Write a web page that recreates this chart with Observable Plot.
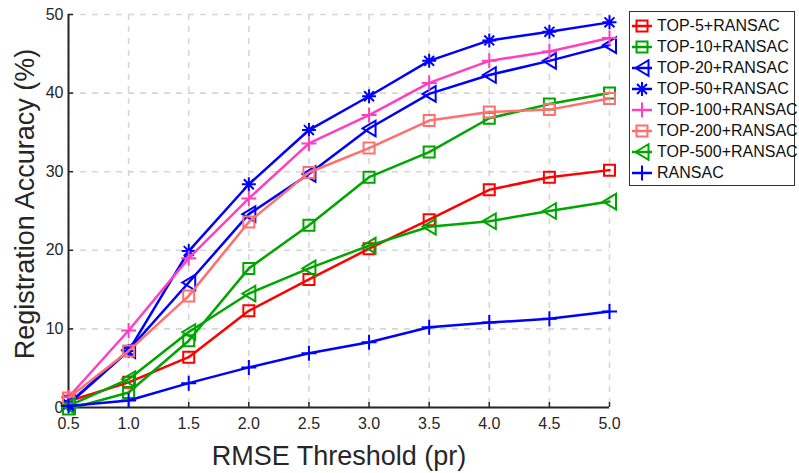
<!DOCTYPE html>
<html>
<head>
<meta charset="utf-8">
<script src="https://cdn.jsdelivr.net/npm/d3@7"></script>
<script src="https://cdn.jsdelivr.net/npm/@observablehq/plot@0.6"></script>
<style>
  html, body { margin: 0; padding: 0; background: #fff; }
  #wrap { position: relative; width: 799px; height: 473px; font-family: "Liberation Sans", Arial, Helvetica, sans-serif; }
  #legend { position: absolute; left: 629px; top: 11px; width: 166px; height: 175px; box-sizing: border-box;
    border: 1.5px solid #333; background: #fff; padding-top: 3px; }
  .row { display: flex; align-items: center; height: 21.1px; font-size: 16px; color: #111; white-space: nowrap; }
  .row svg { flex: none; margin-left: 1px; margin-right: 4px; }
</style>
</head>
<body>
<div id="wrap"></div>
<script>
// ---------- data ----------
const thresholds = [0.5, 1.0, 1.5, 2.0, 2.5, 3.0, 3.5, 4.0, 4.5, 5.0];
const top5   = [0.8, 3.2, 6.4, 12.3, 16.3, 20.2, 23.9, 27.7, 29.3, 30.2];
const top10  = [-0.2, 1.9, 8.5, 17.7, 23.2, 29.3, 32.5, 36.8, 38.6, 40.0];
const top20  = [0.5, 7.3, 15.9, 24.6, 29.7, 35.5, 39.9, 42.3, 44.1, 46.1];
const top50  = [0.4, 7.2, 19.9, 28.4, 35.3, 39.6, 44.1, 46.7, 47.8, 49.0];
const top100 = [1.3, 9.8, 19.0, 26.6, 33.6, 37.2, 41.3, 44.1, 45.3, 47.0];
const top200 = [1.2, 7.2, 14.2, 23.6, 29.9, 33.0, 36.5, 37.6, 37.9, 39.3];
const top500 = [0.2, 3.6, 9.6, 14.5, 17.7, 20.6, 23.0, 23.7, 25.0, 26.2];
const ransac = [0.2, 0.9, 3.1, 5.1, 6.9, 8.3, 10.2, 10.8, 11.3, 12.2];
const seriesNames = ["TOP-5+RANSAC", "TOP-10+RANSAC", "TOP-20+RANSAC", "TOP-50+RANSAC",
                     "TOP-100+RANSAC", "TOP-200+RANSAC", "TOP-500+RANSAC", "RANSAC"];
const seriesValues = [top5, top10, top20, top50, top100, top200, top500, ransac];
const xTicks = [0.5, 1.0, 1.5, 2.0, 2.5, 3.0, 3.5, 4.0, 4.5, 5.0];
const yTicks = [0, 10, 20, 30, 40, 50];

// ---------- marker shapes ----------
const rOf = size => Math.sqrt(size / Math.PI);
const symSquare = { draw(c, size) { const r = rOf(size); c.rect(-r, -r, 2 * r, 2 * r); } };
const symLeftTri = { draw(c, size) { const r = rOf(size);
  c.moveTo(-r, 0); c.lineTo(r, -1.2 * r); c.lineTo(r, 1.2 * r); c.closePath(); } };
const symStar = { draw(c, size) { const r = rOf(size);
  for (let k = 0; k < 4; k++) { const a = k * Math.PI / 4;
    c.moveTo(-r * Math.cos(a), -r * Math.sin(a)); c.lineTo(r * Math.cos(a), r * Math.sin(a)); } } };
const symPlus = { draw(c, size) { const r = rOf(size);
  c.moveTo(-r, 0); c.lineTo(r, 0); c.moveTo(0, -r); c.lineTo(0, r); } };

const styles = [
  { color: "#ff0000", symbol: symSquare, r: 5.5 },
  { color: "#00a600", symbol: symSquare, r: 5.5 },
  { color: "#0000ff", symbol: symLeftTri, r: 6.5 },
  { color: "#0000ff", symbol: symStar, r: 7 },
  { color: "#ff3fbf", symbol: symPlus, r: 7.5 },
  { color: "#ff6f6f", symbol: symSquare, r: 5.5 },
  { color: "#00a600", symbol: symLeftTri, r: 6.5 },
  { color: "#0000ff", symbol: symPlus, r: 7.5 }
];

const tables = seriesValues.map((vals, i) => thresholds.map((t, j) => ({ x: t, y: vals[j], s: seriesNames[i] })));

const seriesMarks = tables.flatMap((tbl, i) => [
  Plot.line(tbl, { x: "x", y: "y", stroke: styles[i].color, strokeWidth: 2.5 }),
  Plot.dot(tbl, { x: "x", y: "y", stroke: styles[i].color, fill: "none", strokeWidth: 2,
                  symbol: styles[i].symbol, r: styles[i].r })
]);

const textColor = "#262626";
const chart = Plot.plot({
  width: 799, height: 473,
  marginLeft: 68, marginRight: 190, marginTop: 14, marginBottom: 66,
  style: { fontFamily: "'Liberation Sans', Arial, Helvetica, sans-serif", background: "white", color: textColor, overflow: "visible" },
  x: { domain: [0.5, 5.0] },
  y: { domain: [0, 50] },
  marks: [
    Plot.gridX(xTicks, { stroke: "#d6d6d6", strokeOpacity: 1, strokeWidth: 1.6, strokeDasharray: "6,6" }),
    Plot.gridY(yTicks, { stroke: "#d6d6d6", strokeOpacity: 1, strokeWidth: 1.6, strokeDasharray: "6,6" }),
    // inward ticks
    Plot.axisX(xTicks, { tickSize: 5, dy: -5, text: null, label: null, stroke: textColor, strokeWidth: 1.5 }),
    Plot.axisY(yTicks, { tickSize: 5, dx: 5, text: null, label: null, stroke: textColor, strokeWidth: 1.5 }),
    // tick labels
    Plot.axisX(xTicks, { tickSize: 0, tickPadding: 10, tickFormat: d3.format(".1f"), fontSize: 16, label: null, fill: textColor }),
    Plot.axisY(yTicks, { tickSize: 0, tickPadding: 5, tickFormat: d3.format("d"), fontSize: 16, label: null, fill: textColor }),
    // axis lines
    Plot.ruleX([0.5], { stroke: textColor, strokeWidth: 2 }),
    Plot.ruleY([0], { stroke: textColor, strokeWidth: 2 }),
    // axis titles
    Plot.text(["RMSE Threshold (pr)"], { frameAnchor: "bottom", text: d => d, fontSize: 27, dy: 57,
      lineAnchor: "bottom", textAnchor: "middle", fill: textColor }),
    Plot.text(["Registration Accuracy (%)"], { frameAnchor: "left", text: d => d, fontSize: 27, rotate: -90,
      dx: -35, dy: -7, lineAnchor: "bottom", textAnchor: "middle", fill: textColor }),
    ...seriesMarks
  ]
});

const wrap = document.getElementById("wrap");
wrap.appendChild(chart);

// ---------- legend ----------
const legend = document.createElement("div");
legend.id = "legend";
seriesNames.forEach((name, i) => {
  const row = document.createElement("div");
  row.className = "row";
  const st = styles[i];
  const path = d3.symbol(st.symbol, st.r * st.r * Math.PI)();
  row.innerHTML = `<svg width="22" height="20" viewBox="0 0 22 20">
    <line x1="1" y1="10" x2="21" y2="10" stroke="${st.color}" stroke-width="2.5"/>
    <path d="${path}" transform="translate(11,10)" fill="none" stroke="${st.color}" stroke-width="2"/>
  </svg><span></span>`;
  row.querySelector("span").textContent = name;
  legend.appendChild(row);
});
wrap.appendChild(legend);
</script>
</body>
</html>
